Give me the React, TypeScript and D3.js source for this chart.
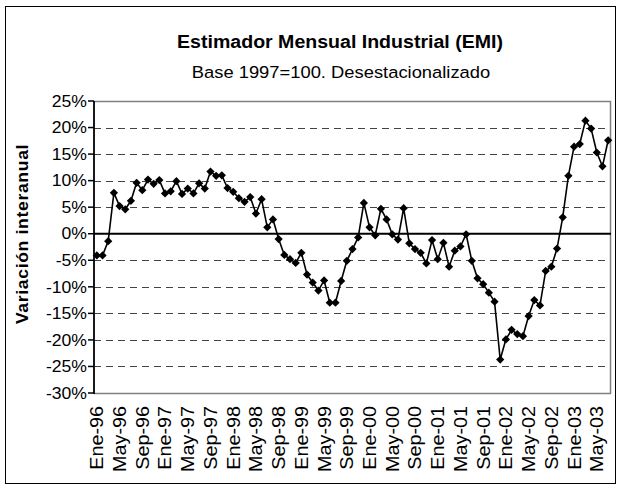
import React from "react";
import * as d3 from "d3";

// variación interanual (%), Ene-96 .. Jul-03
const values = [
  -4.1, -4.1, -1.4, 7.7, 5.2, 4.6, 6.2, 9.6, 8.2, 10.2, 9.4, 10.1,
  7.6, 8.0, 9.9, 7.5, 8.5, 7.6, 9.5, 8.5, 11.7, 10.9, 11.0, 8.6,
  7.9, 6.7, 6.0, 6.9, 3.8, 6.5, 1.2, 2.7, -1.0, -4.0, -4.8, -5.5,
  -3.6, -7.7, -9.2, -10.7, -8.8, -13.0, -13.0, -8.9, -5.1, -2.9, -0.7, 5.8,
  1.2, -0.3, 4.7, 2.7, -0.1, -1.1, 4.8, -1.8, -2.9, -3.6, -5.6, -1.2,
  -4.8, -1.7, -6.2, -3.2, -2.4, -0.1, -5.1, -8.4, -9.5, -11.1, -12.8, -23.7,
  -19.9, -18.1, -18.9, -19.3, -15.5, -12.5, -13.5, -7.0, -6.2, -2.8, 3.1, 10.9,
  16.4, 16.9, 21.3, 19.8, 15.3, 12.7, 17.6,
];

const monthNames = ["Ene", "Feb", "Mar", "Abr", "May", "Jun", "Jul", "Ago", "Sep", "Oct", "Nov", "Dic"];
const categories = values.map(
  (_, i) => `${monthNames[i % 12]}-${String(96 + Math.floor(i / 12)).slice(-2)}`
);

const tickLabels = [
  "Ene-96", "May-96", "Sep-96", "Ene-97", "May-97", "Sep-97", "Ene-98", "May-98",
  "Sep-98", "Ene-99", "May-99", "Sep-99", "Ene-00", "May-00", "Sep-00", "Ene-01",
  "May-01", "Sep-01", "Ene-02", "May-02", "Sep-02", "Ene-03", "May-03",
];

const yTicks = [25, 20, 15, 10, 5, 0, -5, -10, -15, -20, -25, -30];

const FONT = "'Liberation Sans', Arial, Helvetica, sans-serif";

export default function App() {
  const width = 621;
  const height = 489;
  const plot = { left: 94, right: 611, top: 101, bottom: 393 };

  const x = d3
    .scalePoint<string>()
    .domain(categories)
    .range([plot.left, plot.right])
    .padding(0.5);

  const y = d3.scaleLinear().domain([-30, 25]).range([plot.bottom, plot.top]);

  const line = d3
    .line<number>()
    .x((d, i) => x(categories[i]) as number)
    .y((d) => y(d));

  const diamond = d3.symbol(d3.symbolSquare, 34)();

  return (
    <svg
      width={width}
      height={height}
      style={{ position: "absolute", left: 0, top: 0, background: "#fff" }}
      fontFamily={FONT}
    >
      <rect x={5.5} y={6.5} width={610} height={477} fill="#fff" stroke="#000" strokeWidth={1} />

      {/* títulos */}
      <text
        transform={`translate(340,48) scale(1.03,1)`}
        textAnchor="middle"
        fontSize={19}
        fontWeight="bold"
      >
        Estimador Mensual Industrial (EMI)
      </text>
      <text transform={`translate(341,78) scale(1.08,1)`} textAnchor="middle" fontSize={17}>
        Base 1997=100. Desestacionalizado
      </text>

      {/* grilla */}
      {yTicks
        .filter((t) => t !== 0 && t !== 25 && t !== -30)
        .map((t) => (
          <line
            key={"g" + t}
            x1={plot.left}
            x2={plot.right}
            y1={Math.round(y(t)) + 0.5}
            y2={Math.round(y(t)) + 0.5}
            stroke="#444"
            strokeWidth={1}
            strokeDasharray="7,5"
          />
        ))}

      {/* borde del área de trazado */}
      <path
        d={`M${plot.left},${plot.top + 0.5}H${plot.right - 0.5}V${plot.bottom + 0.5}H${plot.left}`}
        fill="none"
        stroke="#808080"
        strokeWidth={1.5}
      />

      {/* eje y */}
      <line x1={plot.left} x2={plot.left} y1={plot.top} y2={plot.bottom + 1} stroke="#000" strokeWidth={1.8} />
      {yTicks.map((t) => (
        <g key={"t" + t}>
          <line x1={plot.left - 6} x2={plot.left} y1={y(t)} y2={y(t)} stroke="#000" strokeWidth={1.5} />
          <text
            transform={`translate(${plot.left - 7},${y(t)}) scale(1.1,1)`}
            textAnchor="end"
            dy="0.36em"
            fontSize={16}
          >
            {t}%
          </text>
        </g>
      ))}

      {/* línea del cero */}
      <line x1={plot.left} x2={plot.right} y1={y(0)} y2={y(0)} stroke="#000" strokeWidth={1.8} />

      {/* etiquetas x */}
      {tickLabels.map((lab) => (
        <text
          key={lab}
          transform={`translate(${x(lab)},406) rotate(-90) scale(1.1,1)`}
          textAnchor="end"
          dy="0.36em"
          fontSize={18}
        >
          {lab}
        </text>
      ))}

      {/* título eje y */}
      <text
        transform={`translate(22,234) rotate(-90) scale(1.1,1)`}
        textAnchor="middle"
        dy="0.36em"
        fontSize={16}
        fontWeight="bold"
        letterSpacing={0.6}
      >
        Variación interanual
      </text>

      {/* serie */}
      <path d={line(values) ?? ""} fill="none" stroke="#000" strokeWidth={1.6} />
      {values.map((v, i) => (
        <path
          key={i}
          d={diamond ?? ""}
          transform={`translate(${x(categories[i])},${y(v)}) rotate(45)`}
          fill="#000"
        />
      ))}
    </svg>
  );
}
